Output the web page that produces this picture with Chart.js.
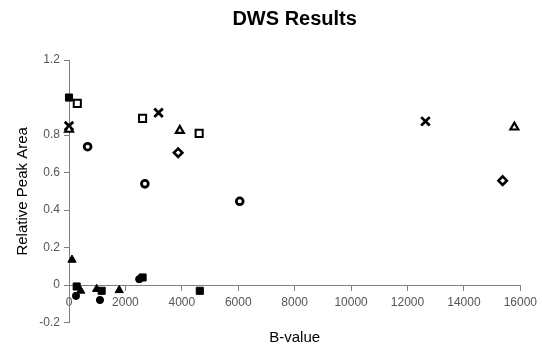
<!DOCTYPE html>
<html>
<head>
<meta charset="utf-8">
<script src="https://cdn.jsdelivr.net/npm/chart.js@4"></script>
<style>
  html, body { margin: 0; padding: 0; background: #fff; }
  #wrap { width: 542px; height: 347px; }
</style>
</head>
<body>
<div id="wrap"><canvas id="dwsChart"></canvas></div>
<script>
// valores (B-value, area relativa)
var filledSquareX = [0, 272, 1158, 2609, 4637];
var filledSquareY = [1.0, -0.007, -0.03, 0.041, -0.03];
var openSquareX = [294, 2608, 4614];
var openSquareY = [0.969, 0.889, 0.809];
var filledTriangleX = [106, 414, 980, 1780];
var filledTriangleY = [0.135, -0.03, -0.021, -0.027];
var openTriangleX = [0, 3929, 15788];
var openTriangleY = [0.83, 0.824, 0.842];
var crossX = [0, 3174, 12637];
var crossY = [0.848, 0.919, 0.873];
var openCircleX = [660, 2690, 6053];
var openCircleY = [0.738, 0.54, 0.447];
var diamondX = [3870, 15374];
var diamondY = [0.706, 0.557];
var filledCircleX = [248, 1097, 2489];
var filledCircleY = [-0.057, -0.079, 0.032];

var xTicks = [0, 2000, 4000, 6000, 8000, 10000, 12000, 14000, 16000];
var yTicks = [-0.2, 0, 0.2, 0.4, 0.6, 0.8, 1.2];

function pts(xs, ys) {
    return xs.map(function(x, i) { return {x: x, y: ys[i]}; });
}

function serie(label, xs, ys, style, radius, filled, bw) {
    return {
        label: label,
        data: pts(xs, ys),
        pointStyle: style,
        pointRadius: radius,
        pointHoverRadius: radius,
        pointBackgroundColor: filled ? '#000' : '#fff',
        pointBorderColor: '#000',
        pointBorderWidth: bw,
        clip: false
    };
}

var tickFont = {family: '"Liberation Sans", Arial, sans-serif', size: 12};
var titleFont = {family: '"Liberation Sans", Arial, sans-serif', size: 15};

new Chart(document.getElementById('dwsChart'), {
    type: 'scatter',
    data: {
        datasets: [
            serie('Open triangle', openTriangleX, openTriangleY, 'triangle', 4.6, false, 2.2),
            serie('Cross', crossX, crossY, 'crossRot', 6, false, 2.8),
            serie('Filled square', filledSquareX, filledSquareY, 'rect', 5, true, 1),
            serie('Open square', openSquareX, openSquareY, 'rect', 5, false, 2),
            serie('Filled triangle', filledTriangleX, filledTriangleY, 'triangle', 4.8, true, 1),
            serie('Open circle', openCircleX, openCircleY, 'circle', 3.4, false, 2.8),
            serie('Diamond', diamondX, diamondY, 'rectRot', 4.2, false, 2.6),
            serie('Filled circle', filledCircleX, filledCircleY, 'circle', 3.6, true, 1)
        ]
    },
    options: {
        responsive: true,
        maintainAspectRatio: false,
        animation: false,
        layout: { padding: { left: 0, right: 21, top: 0, bottom: 0 } },
        plugins: {
            legend: { display: false },
            tooltip: { enabled: false },
            title: {
                display: true,
                text: 'DWS Results',
                fullSize: false,
                color: '#000',
                font: {family: '"Liberation Sans", Arial, sans-serif', size: 20, weight: 'bold'},
                padding: { top: 7, bottom: 29 }
            }
        },
        scales: {
            x: {
                type: 'linear',
                position: { y: 0 },
                min: 0,
                max: 16000,
                afterBuildTicks: function(scale) {
                    scale.ticks = xTicks.map(function(v) { return {value: v}; });
                },
                afterFit: function(scale) { scale.height = 0; },
                ticks: {
                    color: '#555',
                    font: tickFont,
                    padding: 5,
                    maxRotation: 0,
                    callback: function(v) { return String(v); }
                },
                grid: { drawOnChartArea: false, drawTicks: true, tickLength: 5, color: '#808080' },
                border: { display: true, color: '#808080', width: 1 }
            },
            x2: {
                type: 'linear',
                position: 'bottom',
                min: 0,
                max: 16000,
                afterFit: function(scale) { scale.height = 24.3; },
                ticks: { display: false },
                grid: { display: false },
                border: { display: false },
                title: { display: true, text: 'B-value', color: '#000', font: titleFont, padding: { top: 0, bottom: 0 } }
            },
            y: {
                type: 'linear',
                position: 'left',
                min: -0.2,
                max: 1.2,
                afterBuildTicks: function(scale) {
                    scale.ticks = yTicks.map(function(v) { return {value: v}; });
                },
                afterFit: function(scale) { scale.width = 69; },
                ticks: {
                    color: '#555',
                    font: tickFont,
                    padding: 4,
                    callback: function(v) { return String(Math.round(v * 10) / 10); }
                },
                grid: { drawOnChartArea: false, drawTicks: true, tickLength: 5, color: '#808080' },
                border: { display: true, color: '#808080', width: 1 },
                title: { display: true, text: 'Relative Peak Area', color: '#000', font: titleFont, padding: { top: 13.5, bottom: 0 } }
            }
        }
    }
});
</script>
</body>
</html>
